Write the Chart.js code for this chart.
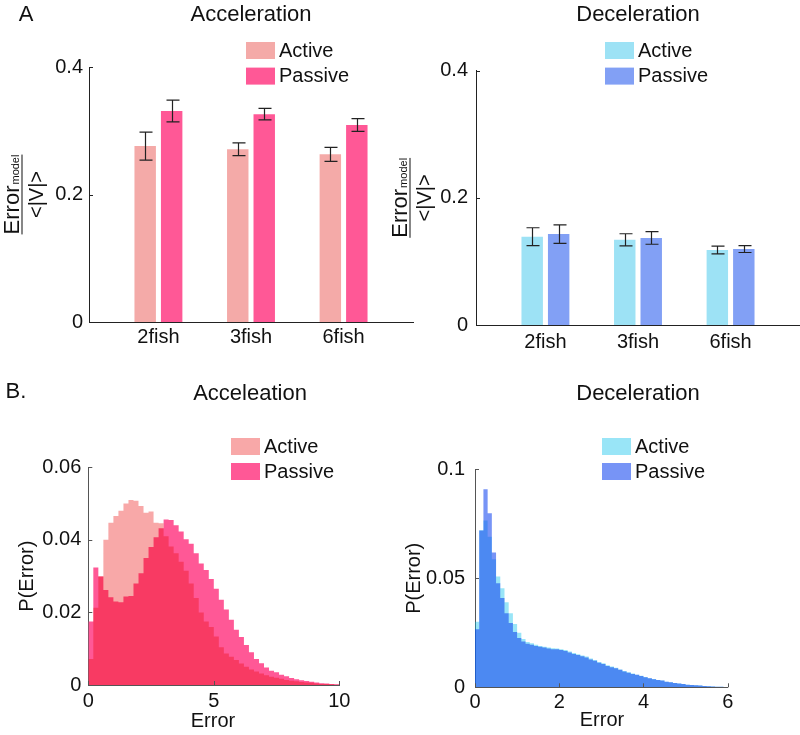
<!DOCTYPE html>
<html lang="en">
<head>
  <meta charset="UTF-8">
  <title>Model error, active vs passive</title>
  <script src="https://cdn.jsdelivr.net/npm/chart.js"></script>
  <style>
    body { margin: 0; background: #fff; }
    #wrap { position: relative; width: 800px; height: 735px; }
    #wrap canvas { position: absolute; left: 0; top: 0; }
  </style>
</head>
<body>
<div id="wrap">
  <canvas id="accBar" width="800" height="735"></canvas>
  <canvas id="decBar" width="800" height="735"></canvas>
  <canvas id="accHist" width="800" height="735"></canvas>
  <canvas id="decHist" width="800" height="735"></canvas>
</div>

<script>
  // ---- panel A : normalised model error per group size ----
  const groups = ['2fish', '3fish', '6fish'];
  const accActive     = [0.276, 0.271, 0.263];
  const accActiveErr  = [0.022, 0.010, 0.011];
  const accPassive    = [0.331, 0.326, 0.309];
  const accPassiveErr = [0.017, 0.009, 0.010];
  const decActive     = [0.139, 0.134, 0.118];
  const decActiveErr  = [0.014, 0.0095, 0.006];
  const decPassive    = [0.143, 0.137, 0.1195];
  const decPassiveErr = [0.0145, 0.010, 0.0055];
  const barYTicks = [0, 0.2, 0.4];

  // ---- panel B : error histograms (one value per bin) ----
  const accBinWidth = 0.2;
  const accHistActive = [
    0.0072, 0.0213, 0.0300, 0.0400, 0.0447, 0.0466, 0.0480, 0.0500, 0.0510, 0.0508,
    0.0493, 0.0475, 0.0478, 0.0447, 0.0446, 0.0410, 0.0382, 0.0363, 0.0340, 0.0315,
    0.0280, 0.0240, 0.0200, 0.0175, 0.0160, 0.0134, 0.0104, 0.0087, 0.0078, 0.0069,
    0.0059, 0.0050, 0.0043, 0.0037, 0.0032, 0.0027, 0.0023, 0.0020, 0.0017, 0.0014,
    0.0012, 0.0010, 0.0008, 0.0007, 0.0006, 0.0004, 0.0003, 0.0003, 0.0002, 0.0001
  ];
  const accHistPassive = [
    0.0175, 0.0324, 0.0299, 0.0262, 0.0242, 0.0230, 0.0228, 0.0244, 0.0245, 0.0280,
    0.0308, 0.0350, 0.0380, 0.0407, 0.0432, 0.0456, 0.0455, 0.0440, 0.0423, 0.0402,
    0.0389, 0.0363, 0.0335, 0.0317, 0.0292, 0.0265, 0.0235, 0.0208, 0.0180, 0.0152,
    0.0132, 0.0110, 0.0090, 0.0072, 0.0060, 0.0048, 0.0039, 0.0035, 0.0028, 0.0024,
    0.0019, 0.0016, 0.0013, 0.0011, 0.0009, 0.0007, 0.0005, 0.0004, 0.0003, 0.0002
  ];
  const accXTicks = [0, 5, 10];
  const accYTicks = [0, 0.02, 0.04, 0.06];

  const decBinWidth = 0.1;
  const decHistActive = [
    0.0301, 0.0720, 0.0765, 0.0691, 0.0587, 0.0508, 0.0454, 0.0390, 0.0340, 0.0290,
    0.0250, 0.0222, 0.0208, 0.0202, 0.0195, 0.0190, 0.0186, 0.0182, 0.0179, 0.0178,
    0.0175, 0.0171, 0.0164, 0.0157, 0.0152, 0.0146, 0.0141, 0.0132, 0.0125, 0.0116,
    0.0110, 0.0101, 0.0095, 0.0090, 0.0082, 0.0075, 0.0069, 0.0063, 0.0058, 0.0053,
    0.0047, 0.0042, 0.0038, 0.0034, 0.0031, 0.0026, 0.0023, 0.0020, 0.0018, 0.0015,
    0.0012, 0.0011, 0.0009, 0.0008, 0.0006, 0.0005, 0.0004, 0.0003, 0.0002, 0.0001
  ];
  const decHistPassive = [
    0.0266, 0.0719, 0.0908, 0.0798, 0.0618, 0.0477, 0.0410, 0.0340, 0.0295, 0.0254,
    0.0226, 0.0210, 0.0200, 0.0195, 0.0190, 0.0186, 0.0182, 0.0178, 0.0175, 0.0174,
    0.0171, 0.0167, 0.0160, 0.0153, 0.0148, 0.0142, 0.0137, 0.0128, 0.0122, 0.0113,
    0.0107, 0.0098, 0.0092, 0.0087, 0.0080, 0.0072, 0.0067, 0.0061, 0.0057, 0.0052,
    0.0046, 0.0041, 0.0037, 0.0034, 0.0031, 0.0026, 0.0023, 0.0020, 0.0018, 0.0015,
    0.0012, 0.0011, 0.0009, 0.0008, 0.0006, 0.0005, 0.0004, 0.0003, 0.0002, 0.0001
  ];
  const decXTicks = [0, 2, 4, 6];
  const decYTicks = [0, 0.05, 0.1];

  // colours
  const salmon = 'rgb(244,170,168)';
  const pink = 'rgb(255,88,150)';
  const cyan = 'rgb(157,226,245)';
  const periwinkle = 'rgb(130,160,245)';
  const redGlass = 'rgba(235,0,0,0.34)';      // active acc. histogram, drawn over passive
  const cyanGlass = 'rgba(0,190,235,0.40)';    // active dec. histogram
  const blueGlass = 'rgba(20,70,240,0.58)';    // passive dec. histogram, drawn on top
  const INK = '#111';

  const FONT = "'Liberation Sans', Arial, Helvetica, sans-serif";
  Chart.defaults.font.family = FONT;
  Chart.defaults.font.size = 20;
  Chart.defaults.color = INK;
  Chart.defaults.animation = false;

  const PAGE_W = 800, PAGE_H = 735, Y_W = 60, X_H = 40;

  // padding so the plot area lands on the given page box
  function padFor(a) {
    return { left: a.l - Y_W, top: a.t, right: Math.max(PAGE_W - a.r, 0), bottom: PAGE_H - a.b - X_H };
  }

  function yAxis(max, ticks, pad, axisColor) {
    return {
      min: 0, max: max,
      grid: { display: false, drawTicks: false },
      border: { display: true, color: axisColor, width: 1 },
      afterBuildTicks: s => { s.ticks = ticks.map(v => ({ value: v })); },
      ticks: { padding: pad, callback: v => String(v) },
      afterFit: s => { s.width = Y_W; }
    };
  }

  function xAxis(min, max, ticks, labelFn, pad, axisColor) {
    return {
      type: 'linear', min: min, max: max, offset: false,
      grid: { display: false, drawTicks: false },
      border: { display: true, color: axisColor, width: 1 },
      afterBuildTicks: s => { s.ticks = ticks.map(v => ({ value: v })); },
      ticks: { padding: pad, maxRotation: 0, autoSkip: false, callback: labelFn },
      afterFit: s => { s.height = X_H; }
    };
  }

  // titles, legends, axis labels, small inward ticks
  function decoPlugin(cfg) {
    return {
      id: 'deco',
      afterDraw(chart) {
        const ctx = chart.ctx;
        const area = chart.chartArea;
        ctx.save();
        ctx.fillStyle = INK;
        ctx.textBaseline = 'middle';

        ctx.textAlign = 'center';
        ctx.font = '22px ' + FONT;
        ctx.fillText(cfg.title[0], cfg.title[1], cfg.title[2]);
        if (cfg.letter) ctx.fillText(cfg.letter[0], cfg.letter[1], cfg.letter[2]);

        // legend
        ctx.font = '20px ' + FONT;
        ctx.textAlign = 'left';
        chart.data.datasets.forEach((ds, i) => {
          const y = cfg.legend[1] + i * cfg.legend[2];
          ctx.fillStyle = ds.backgroundColor;
          ctx.fillRect(cfg.legend[0], y, 29, 17);
          ctx.fillStyle = INK;
          ctx.fillText(ds.label, cfg.legend[0] + 33, y + 9);
        });

        const cy = (area.top + area.bottom) / 2;
        if (cfg.frac !== undefined) {
          // Error_model / <|V|>
          ctx.save();
          ctx.translate(cfg.frac, cy);
          ctx.rotate(-Math.PI / 2);
          ctx.textBaseline = 'alphabetic';
          ctx.font = '22px ' + FONT;
          const w1 = ctx.measureText('Error').width;
          ctx.font = '11px ' + FONT;
          const w2 = ctx.measureText('model').width;
          const w = w1 + w2 + 1;
          ctx.font = '22px ' + FONT;
          ctx.fillText('Error', -w / 2, -3);
          ctx.font = '11px ' + FONT;
          ctx.fillText('model', -w / 2 + w1 + 1, -3);
          ctx.fillRect(-w / 2, -0.5, w, 1);
          ctx.font = '20px ' + FONT;
          ctx.textAlign = 'center';
          ctx.fillText('<|V|>', 0, 21);
          ctx.restore();
        }
        if (cfg.yText) {
          ctx.save();
          ctx.translate(cfg.yText[1], cy);
          ctx.rotate(-Math.PI / 2);
          ctx.textAlign = 'center';
          ctx.fillText(cfg.yText[0], 0, 0);
          ctx.restore();
        }
        if (cfg.xText) {
          ctx.textAlign = 'center';
          ctx.fillText(cfg.xText[0], cfg.xText[1], cfg.xText[2]);
        }

        // inward tick marks
        ctx.strokeStyle = cfg.axisColor;
        ctx.lineWidth = 1;
        ctx.beginPath();
        chart.scales.y.ticks.forEach(t => {
          const py = Math.round(chart.scales.y.getPixelForValue(t.value)) + 0.5;
          ctx.moveTo(area.left, py); ctx.lineTo(area.left + 4, py);
        });
        if (cfg.xTicks) {
          chart.scales.x.ticks.forEach(t => {
            const px = Math.round(chart.scales.x.getPixelForValue(t.value)) + 0.5;
            ctx.moveTo(px, area.bottom); ctx.lineTo(px, area.bottom - 4);
          });
        }
        ctx.stroke();
        ctx.restore();
      }
    };
  }

  const errorBars = {
    id: 'errorBars',
    afterDatasetsDraw(chart) {
      const ctx = chart.ctx;
      const ys = chart.scales.y;
      ctx.save();
      ctx.strokeStyle = '#222';
      ctx.lineWidth = 1.2;
      chart.data.datasets.forEach((ds, i) => {
        if (!ds.errors) return;
        chart.getDatasetMeta(i).data.forEach((bar, j) => {
          const v = ds.data[j].y, e = ds.errors[j];
          const x = Math.round(bar.x) + 0.5;
          const top = ys.getPixelForValue(v + e), bot = ys.getPixelForValue(v - e);
          ctx.beginPath();
          ctx.moveTo(x, top); ctx.lineTo(x, bot);
          ctx.moveTo(x - 6, top); ctx.lineTo(x + 7, top);
          ctx.moveTo(x - 6, bot); ctx.lineTo(x + 7, bot);
          ctx.stroke();
        });
      });
      ctx.restore();
    }
  };

  function barChart(id, area, act, actErr, pas, pasErr, colA, colP, deco, xPad) {
    return new Chart(document.getElementById(id), {
      type: 'bar',
      data: {
        datasets: [
          { label: 'Active', data: act.map((v, i) => ({ x: i + 1, y: v })), errors: actErr, backgroundColor: colA },
          { label: 'Passive', data: pas.map((v, i) => ({ x: i + 1, y: v })), errors: pasErr, backgroundColor: colP }
        ]
      },
      options: {
        responsive: false,
        devicePixelRatio: 1,
        categoryPercentage: 0.572,
        barPercentage: 0.81,
        layout: { padding: padFor(area) },
        plugins: { legend: { display: false }, tooltip: { enabled: false } },
        scales: {
          x: xAxis(0.25, 3.75, [1, 2, 3], v => groups[v - 1], xPad, '#222'),
          y: yAxis(0.4, barYTicks, deco.yPad, '#222')
        }
      },
      plugins: [errorBars, decoPlugin(deco)]
    });
  }

  // histogram drawn as a filled step outline, one step per bin
  function histChart(id, area, binW, act, pas, colA, colP, actOrder, xMax, xTicks, yMax, yTicks, deco, xPad) {
    const toSteps = arr => arr.map((v, i) => ({ x: i * binW, y: v }))
      .concat([{ x: arr.length * binW, y: arr[arr.length - 1] }]);
    const common = { stepped: 'before', fill: 'origin', pointRadius: 0, borderWidth: 0, borderColor: 'rgba(0,0,0,0)' };
    return new Chart(document.getElementById(id), {
      type: 'line',
      data: {
        datasets: [
          Object.assign({ label: 'Active', data: toSteps(act), backgroundColor: colA, order: actOrder }, common),
          Object.assign({ label: 'Passive', data: toSteps(pas), backgroundColor: colP, order: 1 - actOrder }, common)
        ]
      },
      options: {
        responsive: false,
        devicePixelRatio: 1,
        layout: { padding: padFor(area) },
        plugins: { legend: { display: false }, tooltip: { enabled: false } },
        scales: {
          x: xAxis(0, xMax, xTicks, v => String(v), xPad, '#555'),
          y: yAxis(yMax, yTicks, deco.yPad, '#555')
        }
      },
      plugins: [decoPlugin(deco)]
    });
  }

  barChart('accBar', { l: 89, t: 67, r: 413, b: 322 },
    accActive, accActiveErr, accPassive, accPassiveErr, salmon, pink,
    { title: ['Acceleration', 251, 15], letter: ['A', 26, 15], legend: [246, 42, 25.6],
      frac: 22, yPad: 6, axisColor: '#222' }, 3);

  barChart('decBar', { l: 476, t: 70.7, r: 800, b: 325 },
    decActive, decActiveErr, decPassive, decPassiveErr, cyan, periwinkle,
    { title: ['Deceleration', 638, 15], legend: [605, 42, 25.6],
      frac: 410, yPad: 8, axisColor: '#222' }, 5);

  // active drawn on top (order 0) for acceleration, passive on top for deceleration
  histChart('accHist', { l: 88.3, t: 467.3, r: 339.3, b: 685 }, accBinWidth,
    accHistActive, accHistPassive, redGlass, pink, 0, 10, accXTicks, 0.06, accYTicks,
    { title: ['Acceleation', 250, 394], letter: ['B.', 16, 392], legend: [231, 438, 25],
      yText: ['P(Error)', 27], xText: ['Error', 213, 721], yPad: 7, axisColor: '#555', xTicks: true }, 4);

  histChart('decHist', { l: 475, t: 469.3, r: 727.7, b: 687.3 }, decBinWidth,
    decHistActive, decHistPassive, cyanGlass, blueGlass, 1, 6, decXTicks, 0.1, decYTicks,
    { title: ['Deceleration', 638, 394], legend: [602, 438, 25],
      yText: ['P(Error)', 414], xText: ['Error', 602, 720], yPad: 10, axisColor: '#555', xTicks: true }, 3);
</script>
</body>
</html>
